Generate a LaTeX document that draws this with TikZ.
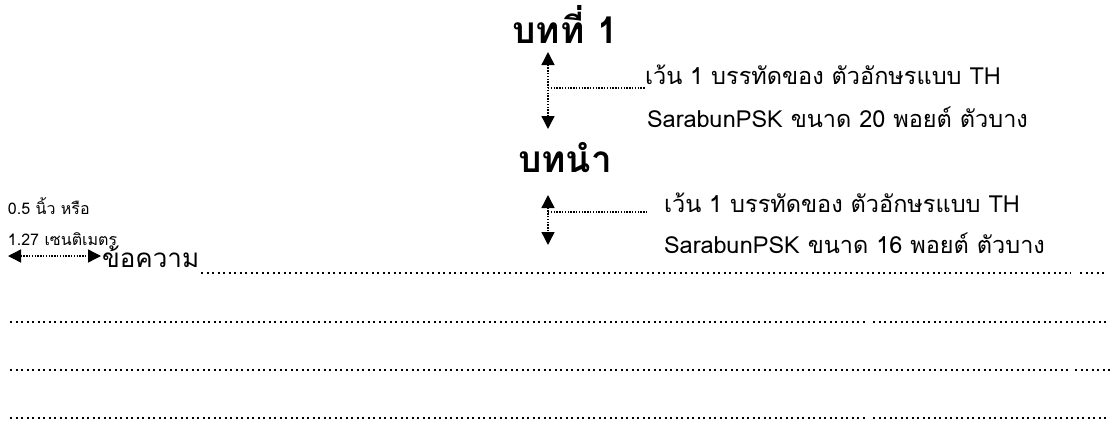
\documentclass[tikz,border=0pt]{standalone}
\usepackage{fontspec}
\usetikzlibrary{arrows.meta}
\newfontfamily\thaifont[Script=Thai]{Loma}
\begin{document}
\begin{tikzpicture}[x=1pt,y=-1pt,
  every node/.style={inner sep=0pt,outer sep=0pt,font=\thaifont},
  head/.style={font=\thaifont\bfseries\fontsize{37}{42}\selectfont},
  body/.style={anchor=west,font=\thaifont\fontsize{23.5}{28}\selectfont},
  small/.style={anchor=west,font=\thaifont\fontsize{16}{19}\selectfont},
  dotline/.style={line width=2pt,dash pattern=on 2pt off 3.5pt},
  spacer/.style={line width=1.4pt,dash pattern=on 1.4pt off 1.4pt,
    {Triangle[width=13pt,length=13pt]}-{Triangle[width=13pt,length=13pt]}},
  leader/.style={line width=1.4pt,dash pattern=on 1.4pt off 1.4pt}]
\useasboundingbox (0,0) rectangle (1110,423);
% headings
\node[head] (h1) at (565,24) {บทที่ 1};
\node[head] (h2) at (565,158) {บทนำ};
% first spacer
\coordinate (a1t) at (548,52);
\coordinate (a1b) at (548,129);
\coordinate (a1m) at (548,88);
\draw[spacer] (a1t) -- (a1b);
\node[body] (t1a) at (645,75) {เว้น 1 บรรทัดของ ตัวอักษรแบบ TH};
\node[body] (t1b) at (647,117) {SarabunPSK ขนาด 20 พอยต์ ตัวบาง};
\draw[leader] (a1m) -- (t1a.south west |- a1m);
% second spacer
\coordinate (a2t) at (548,195);
\coordinate (a2b) at (548,245);
\coordinate (a2m) at (548,212);
\draw[spacer] (a2t) -- (a2b);
\node[body] (t2a) at (664,203) {เว้น 1 บรรทัดของ ตัวอักษรแบบ TH};
\node[body] (t2b) at (664,243) {SarabunPSK ขนาด 16 พอยต์ ตัวบาง};
\coordinate (a2e) at (648,212);
\draw[leader] (a2m) -- (a2e);
% indent note
\node[small] (n1) at (8,206) {0.5 นิ้ว หรือ};
\node[small] (n2) at (8,239) {1.27 เซนติเมตร};
\coordinate (il) at (8,256);
\coordinate (ir) at (101,256);
\draw[spacer] (il) -- (ir);
\node[anchor=west,font=\thaifont\fontsize{26}{30}\selectfont] (msg) at (102,257) {ข้อความ};
% dotted text lines
\draw[dotline] (201,273) -- (1071,273);
\draw[dotline] (1080,273) -- (1105,273);
\draw[dotline] (10,322) -- (866,322);
\draw[dotline] (873,322) -- (1110,322);
\draw[dotline] (10,370) -- (1068,370);
\draw[dotline] (1075,370) -- (1110,370);
\draw[dotline] (10,418) -- (866,418);
\draw[dotline] (873,418) -- (1110,418);
\end{tikzpicture}
\end{document}
